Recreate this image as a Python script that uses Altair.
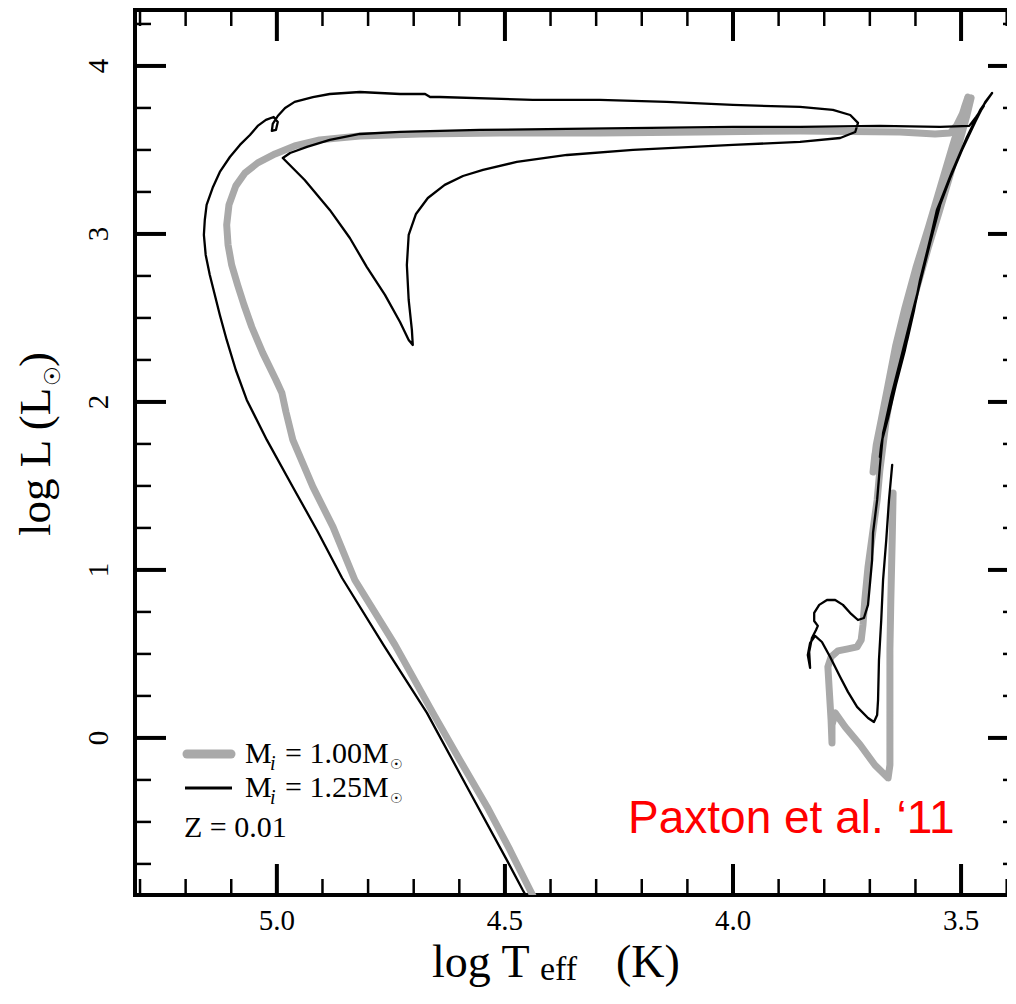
import altair as alt
import pandas as pd

# ---- data: (log Teff, log L) ----
gray_track = [  # M_i = 1.00 Msun
    (3.649, 1.458), (3.651, 1.179), (3.654, 0.821), (3.656, 0.524), (3.656, 0.226),
    (3.656, -0.042), (3.656, -0.161), (3.660, -0.238), (3.689, -0.161), (3.721, -0.042),
    (3.754, 0.065), (3.776, 0.149), (3.783, 0.077), (3.783, -0.030), (3.785, 0.107),
    (3.789, 0.286), (3.792, 0.423), (3.785, 0.482), (3.770, 0.518), (3.748, 0.530),
    (3.728, 0.542), (3.719, 0.583), (3.715, 0.673), (3.711, 0.821), (3.704, 1.018),
    (3.693, 1.238), (3.684, 1.417), (3.678, 1.595), (3.664, 1.893), (3.649, 2.131),
    (3.634, 2.339), (3.612, 2.607), (3.590, 2.815), (3.568, 3.024), (3.546, 3.232),
    (3.524, 3.440), (3.507, 3.619), (3.493, 3.750), (3.485, 3.815),
    (3.498, 3.708), (3.520, 3.512), (3.546, 3.274), (3.572, 3.036), (3.599, 2.798),
    (3.623, 2.560), (3.643, 2.339), (3.660, 2.101), (3.675, 1.893), (3.686, 1.744),
    (3.693, 1.583), (3.689, 1.685), (3.678, 1.833),
    (3.662, 2.012), (3.640, 2.250), (3.618, 2.476), (3.594, 2.708), (3.572, 2.917),
    (3.548, 3.131), (3.524, 3.351), (3.502, 3.560), (3.487, 3.708), (3.478, 3.810),
    (3.493, 3.738), (3.509, 3.649), (3.524, 3.601), (3.557, 3.595), (3.634, 3.607),
    (3.853, 3.613), (4.072, 3.607), (4.292, 3.601), (4.511, 3.601), (4.686, 3.595),
    (4.818, 3.583), (4.906, 3.560), (4.961, 3.524), (5.004, 3.476), (5.042, 3.423),
    (5.070, 3.363), (5.090, 3.286), (5.105, 3.173), (5.110, 3.054), (5.107, 2.935),
    (5.099, 2.815), (5.086, 2.696), (5.072, 2.577), (5.055, 2.446), (5.031, 2.292),
    (5.002, 2.131), (4.989, 2.054), (4.980, 1.940), (4.965, 1.774), (4.921, 1.494),
    (4.877, 1.256), (4.829, 0.940), (4.741, 0.554), (4.658, 0.149), (4.599, -0.131),
    (4.539, -0.411), (4.489, -0.667), (4.445, -0.905), (4.432, -0.976),
]

black_track = [  # M_i = 1.25 Msun
    (3.651, 1.625), (3.658, 1.417), (3.664, 1.179), (3.671, 0.940), (3.675, 0.702),
    (3.680, 0.464), (3.682, 0.226), (3.684, 0.137), (3.691, 0.095), (3.704, 0.119),
    (3.728, 0.185), (3.748, 0.274), (3.765, 0.363), (3.787, 0.482), (3.805, 0.571),
    (3.820, 0.607), (3.831, 0.565), (3.836, 0.494), (3.831, 0.417),
    (3.833, 0.512), (3.827, 0.595), (3.818, 0.643), (3.814, 0.667), (3.822, 0.696),
    (3.822, 0.744), (3.811, 0.792), (3.794, 0.821), (3.776, 0.821), (3.759, 0.792),
    (3.741, 0.738), (3.726, 0.702), (3.713, 0.714), (3.704, 0.792), (3.700, 0.911),
    (3.695, 1.060), (3.693, 1.220), (3.684, 1.417), (3.678, 1.613), (3.671, 1.815),
    (3.649, 2.071), (3.634, 2.220), (3.618, 2.369), (3.603, 2.548), (3.590, 2.726),
    (3.579, 2.845), (3.568, 2.964), (3.553, 3.143), (3.535, 3.262), (3.518, 3.381),
    (3.487, 3.577), (3.458, 3.738), (3.432, 3.839),
    (3.447, 3.786), (3.469, 3.667), (3.498, 3.500), (3.524, 3.333), (3.546, 3.173),
    (3.568, 2.946), (3.590, 2.708), (3.612, 2.476), (3.634, 2.238), (3.654, 2.024),
    (3.667, 1.863), (3.675, 1.744), (3.678, 1.673), (3.673, 1.774),
    (3.660, 1.905), (3.643, 2.101), (3.623, 2.310), (3.601, 2.577), (3.583, 2.798),
    (3.564, 3.012), (3.544, 3.202), (3.520, 3.369), (3.491, 3.548), (3.467, 3.690),
    (3.450, 3.762),
    (3.467, 3.696), (3.482, 3.643), (3.546, 3.637), (3.678, 3.643), (3.853, 3.637),
    (4.000, 3.637), (4.182, 3.631), (4.364, 3.625), (4.555, 3.619), (4.730, 3.607),
    (4.818, 3.595), (4.884, 3.560), (4.934, 3.518), (4.971, 3.482), (4.987, 3.452),
    (4.939, 3.321), (4.884, 3.143), (4.840, 2.976), (4.803, 2.804), (4.763, 2.637),
    (4.730, 2.476), (4.711, 2.369), (4.702, 2.339), (4.704, 2.429), (4.711, 2.607),
    (4.715, 2.815), (4.711, 2.994), (4.695, 3.119), (4.669, 3.214), (4.632, 3.292),
    (4.592, 3.345), (4.548, 3.381), (4.474, 3.429), (4.364, 3.470), (4.219, 3.500),
    (4.000, 3.530), (3.853, 3.548), (3.765, 3.571), (3.732, 3.607), (3.726, 3.661),
    (3.743, 3.708), (3.781, 3.738), (3.853, 3.756), (4.000, 3.768), (4.145, 3.786),
    (4.292, 3.798), (4.439, 3.798), (4.643, 3.815), (4.664, 3.815), (4.675, 3.833),
    (4.730, 3.833), (4.818, 3.845), (4.884, 3.833), (4.921, 3.815), (4.961, 3.786),
    (4.982, 3.750), (4.998, 3.702), (5.009, 3.655), (5.011, 3.613), (5.002, 3.619),
    (4.998, 3.667), (5.007, 3.696), (5.024, 3.679), (5.042, 3.643), (5.059, 3.589),
    (5.081, 3.530), (5.103, 3.458), (5.125, 3.369), (5.140, 3.280), (5.154, 3.173),
    (5.158, 3.083), (5.160, 2.994), (5.156, 2.875), (5.147, 2.756), (5.136, 2.637),
    (5.125, 2.518), (5.110, 2.369), (5.090, 2.190), (5.066, 2.012), (5.022, 1.774),
    (4.965, 1.494), (4.910, 1.226), (4.857, 0.952), (4.765, 0.548), (4.671, 0.149),
    (4.583, -0.292), (4.496, -0.726), (4.461, -0.905), (4.445, -0.982),
]

x_major = [5.0, 4.5, 4.0, 3.5]
x_major_labels = ["5.0", "4.5", "4.0", "3.5"]
x_minor = [5.3, 5.2, 5.1, 4.9, 4.8, 4.7, 4.6, 4.4, 4.3, 4.2, 4.1, 3.9, 3.8, 3.7, 3.6, 3.4]
y_major = [0, 1, 2, 3, 4]
y_major_labels = ["0", "1", "2", "3", "4"]
y_minor = [-0.75, -0.5, -0.25, 0.25, 0.5, 0.75, 1.25, 1.5, 1.75, 2.25, 2.5, 2.75,
           3.25, 3.5, 3.75, 4.25]

legend_labels = ["= 1.00M", "= 1.25M"]
metal_label = "Z = 0.01"
credit = "Paxton et al. \u201811"

# ---- chart ----
W, H = 884, 885
GRAY = "#a9a9a9"
SERIF = "Liberation Serif"
xs = alt.Scale(domain=[3.373, 5.311], reverse=True, nice=False, zero=False)
ys = alt.Scale(domain=[-0.935, 4.333], nice=False, zero=False)


def track_df(trk):
    return pd.DataFrame({"i": list(range(len(trk))),
                         "T": [p[0] for p in trk],
                         "L": [p[1] for p in trk]})


def track_line(trk, color, sw):
    return alt.Chart(track_df(trk)).mark_line(
        color=color, strokeWidth=sw, strokeCap="round", strokeJoin="round", clip=True
    ).encode(
        x=alt.X("T:Q", scale=xs, axis=None),
        y=alt.Y("L:Q", scale=ys, axis=None),
        order=alt.Order("i:Q"),
    )


def xticks(vals, length, sw, top):
    y0, y1 = (0, length) if top else (H, H - length)
    return alt.Chart(pd.DataFrame({"v": vals})).mark_rule(
        color="black", strokeWidth=sw
    ).encode(x=alt.X("v:Q", scale=xs, axis=None), y=alt.value(y0), y2=alt.value(y1))


def yticks(vals, length, sw, right):
    x0, x1 = (W, W - length) if right else (0, length)
    return alt.Chart(pd.DataFrame({"v": vals})).mark_rule(
        color="black", strokeWidth=sw
    ).encode(y=alt.Y("v:Q", scale=ys, axis=None), x=alt.value(x0), x2=alt.value(x1))


one = pd.DataFrame({"a": [0]})


def txt(s, x, y, size, font=SERIF, color="black", align="left",
        baseline="alphabetic", **kw):
    return alt.Chart(one).mark_text(
        text=s, fontSize=size, font=font, color=color, align=align,
        baseline=baseline, **kw
    ).encode(x=alt.value(x), y=alt.value(y))


layers = [
    track_line(gray_track, GRAY, 7),
    track_line(black_track, "black", 2.3),
]

for top in (False, True):
    layers.append(xticks(x_major, 31, 4, top))
    layers.append(xticks(x_minor, 16, 2.5, top))
for right in (False, True):
    layers.append(yticks(y_major, 31, 4, right))
    layers.append(yticks(y_minor, 16, 2.5, right))

# tick labels
layers.append(
    alt.Chart(pd.DataFrame({"v": x_major, "lab": x_major_labels})).mark_text(
        font=SERIF, fontSize=29, color="black", align="center", baseline="alphabetic"
    ).encode(x=alt.X("v:Q", scale=xs, axis=None), y=alt.value(H + 35), text="lab:N")
)
layers.append(
    alt.Chart(pd.DataFrame({"v": y_major, "lab": y_major_labels})).mark_text(
        font=SERIF, fontSize=29, color="black", align="center", baseline="middle", angle=270
    ).encode(y=alt.Y("v:Q", scale=ys, axis=None), x=alt.value(-36), text="lab:N")
)

# axis titles
layers += [
    txt("log T", 297, 967, 46),
    txt("eff", 405, 970, 34),
    txt("(K)", 481, 967, 46),
    txt("log L (L", -85, 526, 45, angle=270),
    txt("\u2609", -75, 376, 22, angle=270, font="DejaVu Sans"),
    txt(")", -85, 357, 45, angle=270),
]

# legend
layers += [
    alt.Chart(one).mark_rule(color=GRAY, strokeWidth=9, strokeCap="round").encode(
        x=alt.value(52), x2=alt.value(96), y=alt.value(744)),
    alt.Chart(one).mark_rule(color="black", strokeWidth=3).encode(
        x=alt.value(50), x2=alt.value(97), y=alt.value(778)),
]
for k, base in enumerate([753, 787]):
    layers += [
        txt("M", 110, base, 30),
        txt("i", 135, base + 7, 20, fontStyle="italic"),
        txt(legend_labels[k], 150, base, 30),
        txt("\u2609", 255, base + 6, 14, font="DejaVu Sans"),
    ]
layers.append(txt(metal_label, 49, 827, 30))

# credit
layers.append(txt(credit, 493, 823, 46, font="Liberation Sans", color="#ff0000"))

chart = alt.layer(*layers).properties(
    width=W, height=H,
    autosize=alt.AutoSizeParams(type="none"),
    padding={"left": 127, "top": 2, "right": -12, "bottom": 93},
    background="white",
).configure_view(stroke="black", strokeWidth=4)

chart.save("out.html", embed_options={"renderer": "svg", "actions": False})
